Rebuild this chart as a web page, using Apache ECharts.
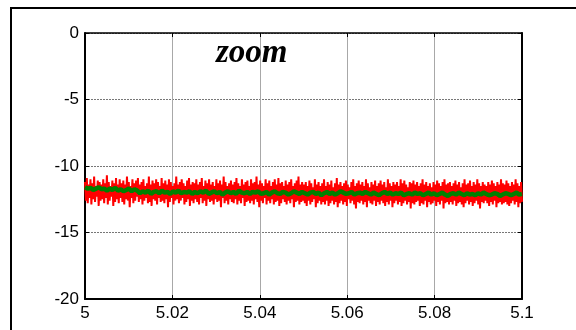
<!DOCTYPE html>
<html><head><meta charset="utf-8">
<script src="https://cdn.jsdelivr.net/npm/echarts@6/dist/echarts.min.js"></script>
<style>html,body{margin:0;padding:0;background:#fff}#c{width:576px;height:330px}</style>
</head><body><div id="c"></div>
<script>
// time range of the zoomed window
var tStart = 5.0, tEnd = 5.1;
var xTicks = [5, 5.02, 5.04, 5.06, 5.08, 5.1];
var yTicks = [0, -5, -10, -15, -20];
var titleText = "zoom";
// red noisy signal (evenly sampled over the window)
var redValues = [
-11.2,-12.6,-10.9,-12.8,-11.4,-12.4,-11.0,-12.9,-11.3,-12.5,-10.8,-12.7,-11.5,-12.3,-11.1,-13.0,-11.2,-12.6,-11.4,-12.5,
-11.0,-12.8,-11.3,-12.4,-10.7,-12.9,-11.2,-12.6,-11.5,-12.3,-11.1,-13.0,-11.3,-12.7,-10.9,-12.5,-11.4,-12.8,-11.0,-12.4,
-11.3,-12.7,-11.1,-12.9,-11.4,-12.5,-10.8,-12.6,-11.2,-13.1,-11.5,-12.4,-11.0,-12.8,-11.3,-12.6,-11.1,-12.3,-10.9,-12.7,
-11.4,-12.5,-11.2,-12.9,-11.0,-12.6,-11.5,-12.4,-11.3,-12.8,-10.8,-12.7,-11.4,-13.0,-11.1,-12.5,-11.3,-12.6,-11.0,-12.9,
-11.2,-12.4,-11.5,-12.7,-10.9,-12.6,-11.3,-12.8,-11.1,-12.5,-11.4,-13.1,-11.0,-12.7,-11.2,-12.4,-11.5,-12.9,-11.3,-12.6,
-10.8,-12.5,-11.4,-12.8,-11.2,-12.6,-11.0,-12.4,-11.3,-12.9,-11.5,-12.7,-11.1,-12.5,-10.9,-13.0,-11.4,-12.6,-11.2,-12.8,
-11.3,-12.5,-11.0,-12.7,-11.4,-12.9,-11.2,-12.4,-10.9,-12.8,-11.5,-12.6,-11.1,-13.0,-11.3,-12.5,-11.0,-12.7,-11.4,-12.6,
-11.2,-12.9,-11.5,-12.5,-11.0,-12.7,-11.3,-12.6,-11.1,-13.1,-11.4,-12.4,-10.8,-12.8,-11.2,-12.6,-11.5,-12.9,-11.3,-12.5,
-11.1,-12.7,-11.4,-12.8,-11.2,-12.5,-10.9,-12.9,-11.3,-12.6,-11.5,-12.8,-11.0,-12.4,-11.4,-13.0,-11.2,-12.7,-11.1,-12.6,
-11.5,-12.8,-11.0,-12.6,-11.3,-12.9,-11.2,-12.5,-10.8,-12.7,-11.4,-13.1,-11.1,-12.6,-11.3,-12.8,-11.5,-12.4,-11.0,-12.9,
-11.3,-12.6,-11.1,-12.8,-11.5,-12.5,-11.2,-12.9,-11.0,-12.7,-11.4,-12.6,-10.9,-13.0,-11.3,-12.8,-11.2,-12.5,-11.5,-12.7,
-11.1,-12.9,-11.4,-12.6,-11.2,-12.8,-11.0,-12.5,-11.5,-13.1,-11.3,-12.7,-11.1,-12.6,-10.8,-12.9,-11.4,-12.7,-11.2,-12.6,
-11.4,-12.8,-11.2,-13.0,-11.5,-12.6,-11.1,-12.9,-11.3,-12.7,-11.6,-12.5,-11.0,-13.1,-11.4,-12.8,-11.2,-12.6,-11.5,-12.9,
-11.3,-12.7,-11.0,-12.9,-11.5,-12.6,-11.2,-13.0,-11.4,-12.8,-11.1,-12.6,-11.6,-12.9,-11.3,-12.7,-10.9,-13.1,-11.4,-12.8,
-11.2,-12.6,-11.5,-12.9,-11.3,-12.7,-11.1,-13.0,-11.4,-12.5,-11.6,-12.8,-11.2,-12.6,-11.0,-12.9,-11.5,-13.2,-11.3,-12.7,
-11.1,-12.8,-11.4,-12.6,-11.2,-12.9,-11.5,-12.7,-11.0,-13.1,-11.3,-12.6,-11.6,-12.8,-11.2,-12.9,-11.4,-12.6,-11.1,-13.0,
-11.5,-12.7,-11.3,-12.9,-11.1,-12.6,-11.4,-12.8,-11.2,-13.0,-11.6,-12.7,-11.0,-12.9,-11.3,-12.6,-11.5,-13.1,-11.2,-12.8,
-11.4,-12.6,-11.2,-12.9,-11.5,-12.7,-11.0,-13.0,-11.3,-12.8,-11.1,-12.6,-11.4,-12.9,-11.6,-12.7,-11.2,-13.2,-11.3,-12.8,
-11.1,-12.9,-11.4,-12.7,-11.2,-12.6,-11.5,-13.0,-11.3,-12.8,-11.0,-12.9,-11.4,-12.6,-11.2,-13.1,-11.5,-12.7,-11.3,-12.9,
-11.6,-12.8,-11.2,-12.6,-11.4,-13.0,-11.1,-12.7,-11.3,-12.9,-11.5,-12.6,-11.2,-13.2,-11.0,-12.8,-11.4,-12.7,-11.3,-12.9,
-11.2,-12.7,-11.5,-12.9,-11.3,-12.6,-11.1,-13.0,-11.4,-12.8,-11.2,-12.7,-11.6,-12.9,-11.3,-13.1,-11.0,-12.8,-11.4,-12.6,
-11.3,-12.9,-11.1,-12.7,-11.5,-13.0,-11.2,-12.8,-11.4,-12.6,-11.0,-12.9,-11.3,-13.2,-11.5,-12.7,-11.2,-12.8,-11.4,-12.6,
-11.5,-12.8,-11.2,-13.0,-11.4,-12.7,-11.1,-12.9,-11.3,-12.6,-11.5,-13.1,-11.2,-12.8,-11.4,-12.7,-11.0,-12.9,-11.3,-12.8,
-11.4,-12.7,-11.1,-12.9,-11.3,-13.0,-11.5,-12.8,-11.2,-12.6,-11.4,-12.9,-11.0,-12.7,-11.3,-13.1,-11.5,-12.8,-11.2,-12.7
];
// green filtered signal (evenly sampled over the window)
var greenValues = [
-11.60,-11.70,-11.65,-11.80,-11.70,-11.60,-11.75,-11.70,-11.85,-11.70,-11.80,-11.65,-11.85,-11.75,-11.90,-11.80,-11.70,-11.90,-11.75,-11.85,
-12.05,-11.90,-12.00,-11.85,-12.10,-11.95,-11.90,-12.05,-11.85,-12.00,-11.95,-12.10,-11.90,-12.00,-11.85,-12.05,-11.95,-12.00,-11.90,-12.10,
-11.95,-12.05,-11.90,-12.00,-11.85,-12.10,-12.00,-11.90,-12.05,-11.95,-12.15,-12.00,-11.90,-12.05,-11.95,-12.10,-11.85,-12.00,-12.05,-11.95,
-12.10,-11.95,-12.00,-11.90,-12.10,-12.05,-11.95,-12.15,-12.00,-11.90,-12.05,-12.10,-11.95,-12.00,-12.15,-12.05,-11.90,-12.00,-12.10,-11.95,
-12.05,-12.15,-12.00,-11.95,-12.10,-12.00,-12.20,-12.05,-11.95,-12.10,-12.00,-12.15,-12.05,-11.90,-12.00,-12.10,-12.05,-11.95,-12.15,-12.05,
-12.00,-12.10,-11.95,-12.05,-12.15,-12.00,-12.10,-12.20,-12.05,-11.95,-12.10,-12.00,-12.15,-12.05,-12.10,-12.00,-12.20,-12.10,-12.05,-12.15,
-12.00,-12.10,-12.05,-12.20,-12.10,-12.00,-12.15,-12.05,-12.20,-12.10,-12.00,-12.15,-12.25,-12.10,-12.05,-12.15,-12.00,-12.10,-12.20,-12.05,
-12.15,-12.10,-12.20,-12.05,-12.15,-12.00,-12.10,-12.20,-12.15,-12.05,-12.10,-12.25,-12.15,-12.05,-12.10,-12.20,-12.10,-12.00,-12.15,-12.10
];
function toPairs(vals){
  var n = vals.length, out = [];
  for (var i = 0; i < n; i++) out.push([tStart + (tEnd - tStart) * i / (n - 1), vals[i]]);
  return out;
}
function fmtX(v){ return String(parseFloat(v.toFixed(2))); }
var chart = echarts.init(document.getElementById('c'), null, {renderer:'canvas'});
var labelFont = {fontFamily:'"Liberation Sans", Arial, sans-serif', fontSize:17, color:'#000'};
chart.setOption({
  animation:false,
  backgroundColor:'#fff',
  grid:{left:85, right:54, top:33, bottom:31, show:false},
  xAxis:[{
    type:'value', min:tStart, max:tEnd, interval:0.02, position:'bottom',
    axisLine:{show:true, onZero:false, lineStyle:{color:'#000', width:2}},
    axisTick:{show:true, inside:true, length:4, lineStyle:{color:'#000'}},
    axisLabel:Object.assign({margin:6, formatter:fmtX, showMinLabel:true, showMaxLabel:true}, labelFont),
    splitLine:{show:true, lineStyle:{color:'#a8a8a8', width:1, type:'solid'}}
  },{
    type:'value', min:tStart, max:tEnd, interval:0.02, position:'top',
    axisLine:{show:true, onZero:false, lineStyle:{color:'#000', width:1.5}},
    axisTick:{show:true, inside:true, length:4, lineStyle:{color:'#000'}},
    axisLabel:{show:false}, splitLine:{show:false}
  }],
  yAxis:[{
    type:'value', min:-20, max:0, interval:5, position:'left',
    axisLine:{show:true, onZero:false, lineStyle:{color:'#000', width:2}},
    axisTick:{show:true, inside:true, length:4, lineStyle:{color:'#000'}},
    axisLabel:Object.assign({margin:6, showMinLabel:true, showMaxLabel:true}, labelFont),
    splitLine:{show:true, lineStyle:{color:'#777', width:1, type:[2,1]}}
  },{
    type:'value', min:-20, max:0, interval:5, position:'right',
    axisLine:{show:true, onZero:false, lineStyle:{color:'#000', width:2}},
    axisTick:{show:true, inside:true, length:4, lineStyle:{color:'#000'}},
    axisLabel:{show:false}, splitLine:{show:false}
  }],
  graphic:[
    {type:'rect', shape:{x:11, y:8, width:600, height:360}, style:{fill:null, stroke:'#000', lineWidth:2}, z:-1, silent:true},
    {type:'text', left:216, top:37, style:{text:titleText, font:'italic bold 33px "Liberation Serif", "Times New Roman", serif', fill:'#000'}, z:10}
  ],
  series:[
    {type:'line', data:toPairs(redValues), showSymbol:false, lineStyle:{color:'#ff0000', width:2}, itemStyle:{color:'#ff0000'}, z:3},
    {type:'line', data:toPairs(greenValues), showSymbol:false, lineStyle:{color:'#008000', width:4.5}, itemStyle:{color:'#008000'}, z:4}
  ]
});
</script></body></html>
